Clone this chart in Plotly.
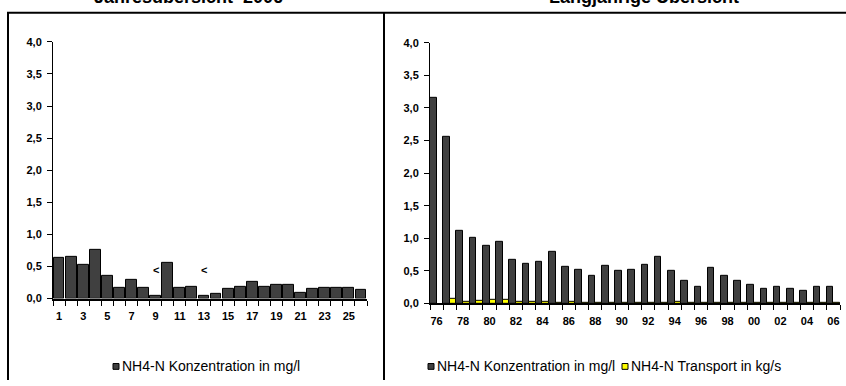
import plotly.graph_objects as go

# ---------------- data ----------------
samples_2006 = list(range(1, 27))
conc_2006 = [0.64, 0.65, 0.53, 0.76, 0.35, 0.16, 0.29, 0.16, 0.04, 0.55, 0.16, 0.18, 0.04,
             0.07, 0.15, 0.19, 0.26, 0.19, 0.22, 0.22, 0.09, 0.15, 0.17, 0.16, 0.16, 0.14]
below_limit_samples = [9, 13]
left_tick_vals = [1, 3, 5, 7, 9, 11, 13, 15, 17, 19, 21, 23, 25]
left_tick_text = ["1", "3", "5", "7", "9", "11", "13", "15", "17", "19", "21", "23", "25"]

years = list(range(1976, 2007))
conc_years = [3.16, 2.55, 1.11, 1.00, 0.88, 0.95, 0.665, 0.61, 0.64, 0.79, 0.57, 0.52, 0.42,
              0.58, 0.50, 0.52, 0.60, 0.72, 0.50, 0.35, 0.26, 0.54, 0.42, 0.35, 0.29, 0.23,
              0.26, 0.23, 0.20, 0.26, 0.25]
transport_years = [None, 0.07, 0.03, 0.045, 0.055, 0.055, 0.03, 0.03, 0.03, 0.015, 0.025, 0.015,
                   0.01, 0.01, 0.01, 0.01, 0.01, 0.01, 0.02, 0.005, 0.005, 0.005, 0.005, 0.005,
                   0.005, 0.005, 0.005, 0.005, 0.005, 0.005, 0.005]
right_tick_vals = [1976, 1978, 1980, 1982, 1984, 1986, 1988, 1990, 1992, 1994, 1996, 1998,
                   2000, 2002, 2004, 2006]
right_tick_text = ["76", "78", "80", "82", "84", "86", "88", "90", "92", "94", "96", "98",
                   "00", "02", "04", "06"]

y_tick_vals = [0, 0.5, 1.0, 1.5, 2.0, 2.5, 3.0, 3.5, 4.0]

title_left = "Jahresübersicht  2006"
title_right = "Langjährige Übersicht"
name_conc = "NH4-N Konzentration in mg/l"
name_trans = "NH4-N Transport in kg/s"

DARK = "#404040"
YELLOW = "#FFFF00"
FONT = "Liberation Sans, Arial, sans-serif"

W, H = 846, 386


def px(x):
    return x / W


def py(y):
    return 1 - y / H


fig = go.Figure()

fig.add_trace(go.Bar(x=samples_2006, y=conc_2006, name=name_conc, marker_color=DARK,
                     marker_line=dict(color="black", width=1), xaxis="x", yaxis="y",
                     width=0.9, showlegend=False))
fig.add_trace(go.Bar(x=years, y=conc_years, name=name_conc, marker_color=DARK,
                     marker_line=dict(color="black", width=1), xaxis="x2", yaxis="y2",
                     offsetgroup="a", showlegend=False))
fig.add_trace(go.Bar(x=years, y=transport_years, name=name_trans, marker_color=YELLOW,
                     marker_line=dict(color="black", width=1), xaxis="x2", yaxis="y2",
                     offsetgroup="b", showlegend=False))

tickfont = dict(family=FONT, size=11, color="black", weight="bold")

common_y = dict(range=[0, 4], tickvals=y_tick_vals, tickformat=".1f", ticks="outside",
                ticklen=5, tickcolor="black", showline=True, linecolor="black", linewidth=1,
                showgrid=False, zeroline=False, tickfont=tickfont, fixedrange=True,
                ticklabelstandoff=3)

common_x = dict(ticks="", showline=True, linecolor="black", linewidth=2, showgrid=False,
                zeroline=False, tickfont=tickfont, ticklabelstandoff=6)

fig.update_layout(
    width=W, height=H,
    margin=dict(l=0, r=0, t=0, b=0),
    paper_bgcolor="white", plot_bgcolor="white",
    separators=", ",
    barmode="group", bargap=0.0, bargroupgap=0.0,
    showlegend=False,
    xaxis=dict(domain=[px(53), px(367)], range=[0.5, 26.5], tickvals=left_tick_vals,
               ticktext=left_tick_text,
               minor=dict(tickmode="linear", tick0=0.5, dtick=1, ticks="outside", ticklen=5,
                          tickcolor="black"),
               anchor="y", **common_x),
    yaxis=dict(domain=[py(302), py(37)], anchor="x", **common_y),
    xaxis2=dict(domain=[px(430), px(840)], range=[1975.5, 2006.5], tickvals=right_tick_vals,
                ticktext=right_tick_text,
                minor=dict(tickmode="linear", tick0=1975.5, dtick=1, ticks="outside",
                           ticklen=5, tickcolor="black"),
                anchor="y2", **common_x),
    yaxis2=dict(domain=[py(307), py(38)], anchor="x2", **common_y),
)

annotations = []
for s in below_limit_samples:
    annotations.append(dict(x=s, y=0.44, xref="x", yref="y", text="<", showarrow=False,
                            font=dict(family=FONT, size=11, color="black", weight="bold")))

# titles (cut at the top edge, like the reference)
annotations.append(dict(x=px(188), y=py(-9), xref="paper", yref="paper", text=title_left,
                        showarrow=False, xanchor="center", yanchor="middle",
                        font=dict(family=FONT, size=18, color="black", weight="bold")))
annotations.append(dict(x=px(644), y=py(-9), xref="paper", yref="paper", text=title_right,
                        showarrow=False, xanchor="center", yanchor="middle",
                        font=dict(family=FONT, size=18, color="black", weight="bold")))

legend_font = dict(family=FONT, size=14, color="black")
shapes = []


def legend_item(x_sq, y_c, color, label):
    shapes.append(dict(type="rect", xref="paper", yref="paper", x0=px(x_sq), x1=px(x_sq + 6),
                       y0=py(y_c + 3), y1=py(y_c - 3), fillcolor=color,
                       line=dict(color="black", width=1)))
    annotations.append(dict(x=px(x_sq + 7), y=py(y_c), xref="paper", yref="paper", text=label,
                            showarrow=False, xanchor="left", yanchor="middle",
                            font=legend_font))


legend_item(113, 372, DARK, name_conc)
legend_item(428, 372, DARK, name_conc)
legend_item(622, 372, YELLOW, name_trans)

# frame lines of the surrounding table
frame = dict(color="black", width=2)
shapes.append(dict(type="line", xref="paper", yref="paper", x0=px(7), x1=1, y0=py(7), y1=py(7),
                   line=frame))
shapes.append(dict(type="line", xref="paper", yref="paper", x0=px(8), x1=px(8), y0=py(7), y1=0,
                   line=frame))
shapes.append(dict(type="line", xref="paper", yref="paper", x0=px(384), x1=px(384), y0=py(7),
                   y1=0, line=frame))

fig.update_layout(annotations=annotations, shapes=shapes)

fig.write_html("out.html",
               config={"displayModeBar": False},
               post_script="document.body.style.margin='0';"
                           "document.body.style.overflow='hidden';")
